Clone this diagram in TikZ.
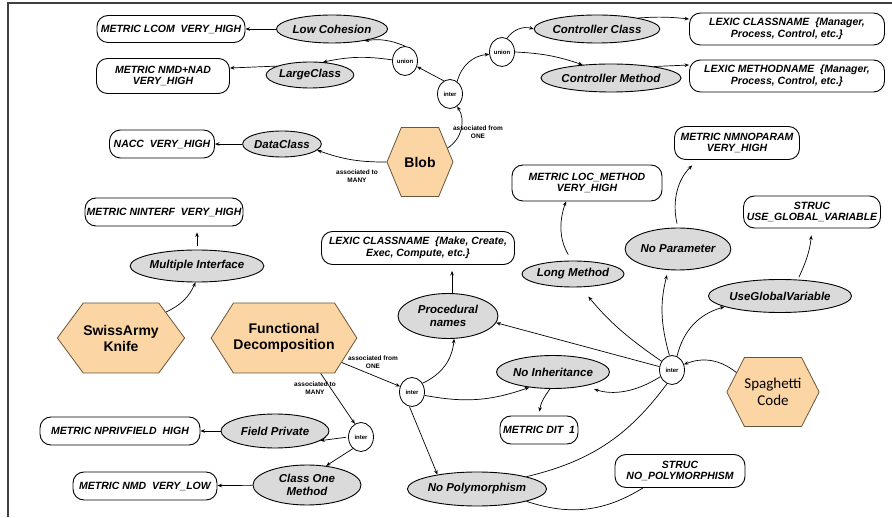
\documentclass[tikz,border=0pt]{standalone}
\usepackage{fontspec}
\setmainfont{Liberation Sans}
\newfontfamily\spagfont{Carlito}
\usetikzlibrary{shapes.geometric,shapes.symbols,arrows.meta}
\definecolor{smellgrey}{RGB}{218,218,218}
\definecolor{hexfill}{RGB}{252,213,165}
\definecolor{hexline}{RGB}{105,85,60}
\tikzset{
  metric/.style={draw, rounded corners=11pt, line width=0.9pt, align=center, inner sep=0pt,
    font=\fontsize{10.5}{11.5}\selectfont\bfseries\itshape},
  smell/.style={ellipse, draw, fill=smellgrey, line width=0.9pt, align=center, inner sep=0pt,
    font=\fontsize{11.5}{13.5}\selectfont\bfseries\itshape},
  anti/.style={signal, signal to=east and west, draw=hexline, fill=hexfill, line width=0.8pt,
    align=center, inner sep=0pt, font=\fontsize{14}{16}\selectfont\bfseries},
  op/.style={ellipse, draw, line width=0.8pt, minimum width=25pt, minimum height=29pt,
    inner sep=0pt, font=\fontsize{6}{6}\selectfont\bfseries},
  assoc/.style={align=center, font=\fontsize{6.5}{7.5}\selectfont\bfseries},
  link/.style={-{Stealth[length=4.5pt,width=3.6pt]}, line width=0.7pt},
  wire/.style={line width=0.7pt}
}
\begin{document}
\begin{tikzpicture}[x=1pt,y=1pt]
\useasboundingbox (0,0) rectangle (892,517);
\draw[line width=1.3pt, black!75] (8,0) -- (8,514) -- (892,514);
% Blob
\node[metric, minimum width=148pt, minimum height=27pt] (lcom) at (171,488) {METRIC LCOM\ \ VERY\_HIGH};
\node[smell, minimum width=95pt, minimum height=28pt] (lowcoh) at (332,488) {Low Cohesion};
\node[metric, minimum width=133pt, minimum height=35pt] (nmdnad) at (163,441) {METRIC NMD+NAD\\VERY\_HIGH};
\node[smell, minimum width=74pt, minimum height=26pt] (largecl) at (310,442) {LargeClass};
\node[op] (union1) at (405,456) {union};
\node[op] (inter1) at (450,423) {inter};
\node[op] (union2) at (502,465) {union};
\node[smell, minimum width=105pt, minimum height=28pt] (ctrlcl) at (597,488) {Controller Class};
\node[smell, minimum width=122pt, minimum height=28pt] (ctrlm) at (611,439) {Controller Method};
\node[metric, minimum width=195pt, minimum height=32pt] (lexcl) at (787,488) {LEXIC CLASSNAME\ \ \{Manager,\\Process, Control, etc.\}};
\node[metric, minimum width=195pt, minimum height=32pt] (lexm) at (787,441) {LEXIC METHODNAME\ \ \{Manager,\\Process, Control, etc.\}};
\node[anti, signal pointer angle=135, minimum width=66pt, minimum height=69pt] (blob) at (420,355) {Blob};
\node[smell, minimum width=72pt, minimum height=26pt] (datacl) at (282,373) {DataClass};
\node[metric, minimum width=105pt, minimum height=28pt] (nacc) at (162,373) {NACC\ \ VERY\_HIGH};
\node[assoc] (fromone1) at (478,385) {associated from\\ONE};
\node[assoc] (tomany1) at (357,341) {associated to\\MANY};
\draw[link] (lowcoh) -- (lcom);
\draw[link] (largecl.165) -- ([yshift=8pt]nmdnad.east);
\draw[link] (datacl) -- (nacc);
\draw[link] (union1.north) to[bend right=15] (lowcoh.-20);
\draw[link] (union1.175) to[bend right=10] (largecl.45);
\draw[link] (inter1.115) -- (union1.-25);
\draw[link] (inter1.60) to[bend left=35] (union2.190);
\draw[link] (union2.70) to[bend left=35] (ctrlcl.west);
\draw[link] (union2.east) to[bend left=8] (ctrlm.155);
\draw[link] (ctrlcl.15) to[bend left=5] ([yshift=10pt]lexcl.west);
\draw[link] (ctrlm.15) -- ([yshift=11pt]lexm.west);
\draw[link] (blob.27) to[bend right=45] (inter1.-60);
\draw[link] (blob.west) to[bend left=10] (datacl.-10);
% SwissArmy Knife, Functional Decomposition
\node[metric, minimum width=158pt, minimum height=28pt] (ninterf) at (164,305) {METRIC NINTERF\ \ VERY\_HIGH};
\node[smell, minimum width=105pt, minimum height=32pt] (multi) at (197,251) {Multiple Interface};
\node[anti, signal pointer angle=107, minimum width=102pt, minimum height=70pt] (swiss) at (121,179) {SwissArmy\\Knife};
\node[anti, signal pointer angle=115, minimum width=132pt, minimum height=70pt] (func) at (284,179) {Functional\\Decomposition};
\node[metric, minimum width=193pt, minimum height=33pt] (lexmake) at (418,269) {LEXIC CLASSNAME\ \ \{Make, Create,\\Exec, Compute, etc.\}};
\node[smell, minimum width=100pt, minimum height=45pt] (proc) at (448,201) {Procedural\\names};
\node[op] (inter2) at (412,125) {inter};
\node[op] (inter4) at (361,80) {inter};
\node[smell, minimum width=108pt, minimum height=34pt] (fieldp) at (275,86) {Field Private};
\node[smell, minimum width=108pt, minimum height=40pt] (classone) at (307,32) {Class One\\Method};
\node[metric, minimum width=160pt, minimum height=28pt] (npriv) at (120,86) {METRIC NPRIVFIELD\ \ HIGH};
\node[metric, minimum width=144pt, minimum height=28pt] (nmdlow) at (145,31) {METRIC NMD\ \ VERY\_LOW};
\node[assoc] (fromone2) at (373,155) {associated from\\ONE};
\node[assoc] (tomany2) at (315,129) {associated to\\MANY};
% Spaghetti Code
\node[metric, minimum width=150pt, minimum height=36pt] (loc) at (587,334) {METRIC LOC\_METHOD\\VERY\_HIGH};
\node[smell, minimum width=97pt, minimum height=26pt] (longm) at (573,243) {Long Method};
\node[metric, minimum width=125pt, minimum height=33pt] (nmnop) at (737,374) {METRIC NMNOPARAM\\VERY\_HIGH};
\node[smell, minimum width=100pt, minimum height=42pt] (nopar) at (678,268) {No Parameter};
\node[metric, minimum width=137pt, minimum height=32pt] (useglob) at (812,305) {STRUC\\USE\_GLOBAL\_VARIABLE};
\node[smell, minimum width=130pt, minimum height=33pt] (useglobv) at (780,221) {UseGlobalVariable};
\node[op] (inter3) at (672,147) {inter};
\node[anti, signal pointer angle=126, minimum width=90pt, minimum height=69pt,
  font=\spagfont\fontsize{15}{17}\selectfont] (spag) at (773,125) {Spaghetti\\Code};
\node[smell, minimum width=97pt, minimum height=33pt] (noinh) at (553,145) {No Inheritance};
\node[metric, minimum width=78pt, minimum height=28pt] (dit) at (539,87) {METRIC DIT\ \ 1};
\node[smell, minimum width=120pt, minimum height=34pt] (nopoly) at (477,28) {No Polymorphism};
\node[metric, minimum width=130pt, minimum height=33pt] (strucnp) at (680,46) {STRUC\\NO\_POLYMORPHISM};
\draw[link, shorten <=4pt, shorten >=6pt] (multi.north) -- (multi.north |- ninterf.south);
\draw[link] (swiss.30) to[bend right=20] (multi.-95);
\draw[link] (func.-23) -- (inter2.155);
\draw[link] (func.-44) -- (inter4.115);
\draw[link, shorten <=2pt] (inter4.west) -- (fieldp.-12);
\draw[link] (inter4.-125) -- (classone.45);
\draw[link] (fieldp) -- (npriv);
\draw[link] (classone) -- (nmdlow);
\draw[link] (inter2.40) to[bend right=30] (proc.-75);
\draw[link] (inter2.-15) to[bend right=15] (noinh.213);
\draw[link] (inter2.-100) -- (nopoly.160);
\draw[link, shorten >=6pt] (proc.80) -- (proc.80 |- lexmake.south);
\draw[link, shorten >=4pt] (noinh.-100) to[bend right=15] (dit.north);
\draw[link] (spag.152) to[bend right=30] (inter3.25);
\draw[link] (inter3.165) -- (proc.-8);
\draw[link, shorten >=12pt] (inter3.140) to[bend left=8] (longm.-60);
\draw[link, shorten >=5pt] (inter3.100) to[bend left=15] (nopar.-115);
\draw[link] (inter3.70) to[bend left=30] (useglobv.191);
\draw[link, shorten >=10pt] (inter3.-150) to[bend left=25] (noinh.-24);
\draw[wire] (inter3.-110) to[bend left=20] (nopoly.14);
\draw[wire] (nopoly.-14) to[bend right=25] ([xshift=-37pt]strucnp.south);
\draw[link, shorten <=7pt] (longm.95) to[bend left=25] ([xshift=-21pt]loc.south);
\draw[link, shorten <=4pt, shorten >=8pt] (nopar.north) to[bend left=30] ([xshift=-39pt]nmnop.south);
\draw[link, shorten <=2pt, shorten >=7pt] ([xshift=18pt]useglobv.north) to[bend right=10] (useglob.south);
\end{tikzpicture}
\end{document}
